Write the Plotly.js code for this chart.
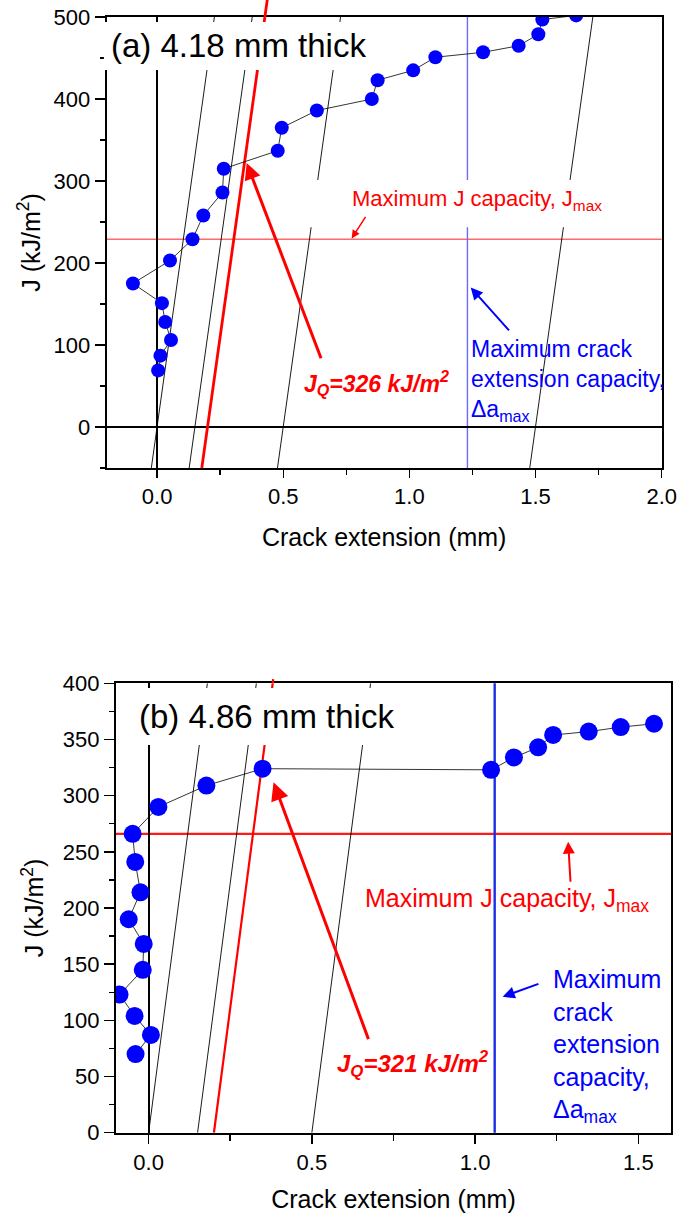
<!DOCTYPE html>
<html><head><meta charset="utf-8">
<script src="https://cdn.plot.ly/plotly-3.0.1.min.js"></script>
<style>html,body{margin:0;padding:0;background:#fff;}#chart{width:683px;height:1218px;}</style>
</head><body><div id="chart"></div>
<script>
// ---------- Panel (a): 4.18 mm thick ----------
const crackA = [0.004, 0.013, 0.055, 0.032, 0.019, -0.096, 0.051, 0.140, 0.183, 0.259, 0.264, 0.478, 0.494, 0.633, 0.851, 0.874, 1.015, 1.103, 1.292, 1.433, 1.511, 1.527, 1.661];
const jA     = [69, 87, 106, 128, 151, 175, 203, 229, 258, 286, 315, 337, 365, 386, 400, 423, 435, 451, 457, 465, 479, 497, 502];
// construction lines (crack extension at J = lineJA[0] and lineJA[1])
const lineJA     = [-50, 500];
const bluntA     = [-0.023, 0.227];
const offset015A = [0.127, 0.377];
const offset020A = [0.177, 0.427];
const offset050A = [0.477, 0.727];
const offset150A = [1.477, 1.727];
const jMaxA  = 229;
const daMaxA = 1.23;
const jQA    = 326;
const labelA = '(a) 4.18 mm thick';

// ---------- Panel (b): 4.86 mm thick ----------
const crackB = [-0.040, 0.007, -0.043, -0.089, -0.018, -0.015, -0.061, -0.025, -0.041, -0.049, 0.030, 0.177, 0.349, 1.049, 1.119, 1.193, 1.239, 1.348, 1.446, 1.548];
const jB     = [70, 87, 104, 123, 145, 168, 190, 214, 241, 266, 290, 309, 324, 323, 334, 343, 354, 357, 361, 364];
const lineJB     = [0, 400];
const bluntB     = [0, 0.18];
const offset015B = [0.15, 0.33];
const offset020B = [0.2, 0.38];
const offset050B = [0.5, 0.68];
const jMaxB  = 266;
const daMaxB = 1.06;
const jQB    = 321;
const labelB = '(b) 4.86 mm thick';

const xTitle = 'Crack extension (mm)';
const yTitle = 'J (kJ/m<sup>2</sup>)';

const FONT = 'Liberation Sans, Arial, sans-serif';
const RED = '#ff0000', BLUE = '#0000ff';

function seg(xs, ys, xa, ya, color, width) {
  return {type: 'scatter', mode: 'lines', x: xs, y: ys, xaxis: xa, yaxis: ya,
          line: {color: color, width: width}, hoverinfo: 'skip'};
}

const traces = [
  seg(bluntA, lineJA, 'x', 'y', 'black', 0.9),
  seg(offset015A, lineJA, 'x', 'y', 'black', 0.9),
  seg(offset050A, lineJA, 'x', 'y', 'black', 0.9),
  seg(offset150A, lineJA, 'x', 'y', 'black', 0.9),
  seg(offset020A, lineJA, 'x', 'y', RED, 2.8),
  {type: 'scatter', mode: 'lines+markers', x: crackA, y: jA, xaxis: 'x', yaxis: 'y',
   line: {color: 'black', width: 0.8}, marker: {color: BLUE, size: 14}},

  seg(bluntB, lineJB, 'x2', 'y2', 'black', 0.9),
  seg(offset015B, lineJB, 'x2', 'y2', 'black', 0.9),
  seg(offset050B, lineJB, 'x2', 'y2', 'black', 0.9),
  seg(offset020B, lineJB, 'x2', 'y2', RED, 2.2),
  {type: 'scatter', mode: 'lines+markers', x: crackB, y: jB, xaxis: 'x2', yaxis: 'y2',
   line: {color: 'black', width: 0.8}, marker: {color: BLUE, size: 18}}
];

function axisCommon(extra) {
  return Object.assign({
    showline: true, mirror: true, linecolor: 'black', linewidth: 2,
    showgrid: false, zeroline: true, zerolinecolor: 'black', zerolinewidth: 1.8,
    ticks: 'outside', tickcolor: 'black', tickwidth: 1.5,
    tickfont: {family: FONT, size: 22, color: 'black'},
    fixedrange: true
  }, extra);
}

function arrow(xr, yr, x, y, ax, ay, color, width, size, head) {
  return {xref: xr, yref: yr, axref: xr, ayref: yr, x: x, y: y, ax: ax, ay: ay,
          text: '', showarrow: true, arrowhead: head, arrowsize: size,
          arrowwidth: width, arrowcolor: color, standoff: 0, font: {size: 1}};
}

function slopeExt(xs, js, jTo) {
  const s = (xs[1] - xs[0]) / (js[1] - js[0]);
  return xs[1] + s * (jTo - js[1]);
}

const layout = {
  width: 683, height: 1218,
  margin: {l: 0, r: 0, t: 0, b: 0},
  paper_bgcolor: 'white', plot_bgcolor: 'white',
  showlegend: false, hovermode: false,
  font: {family: FONT, color: 'black'},
  xaxis: axisCommon({domain: [0.1562, 0.9688], range: [-0.2, 2.0], anchor: 'y',
    dtick: 0.5, tick0: 0, tickformat: '.1f', ticklen: 8,
    minor: {dtick: 0.25, ticklen: 5, ticks: 'outside', tickcolor: 'black', tickwidth: 1.5},
    title: {text: xTitle, font: {family: FONT, size: 25, color: 'black'}, standoff: 20}}),
  yaxis: axisCommon({domain: [0.6158, 0.9860], range: [-50, 500], anchor: 'x',
    dtick: 100, tick0: 0, ticklen: 10,
    minor: {dtick: 50, ticklen: 5, ticks: 'outside', tickcolor: 'black', tickwidth: 1.5},
    title: {text: yTitle, font: {family: FONT, size: 25, color: 'black'}, standoff: 6}}),
  xaxis2: axisCommon({domain: [0.1698, 0.9824], range: [-0.1, 1.6], anchor: 'y2',
    dtick: 0.5, tick0: 0, tickformat: '.1f', ticklen: 9,
    minor: {dtick: 0.25, ticklen: 6, ticks: 'outside', tickcolor: 'black', tickwidth: 1.5},
    title: {text: xTitle, font: {family: FONT, size: 25, color: 'black'}, standoff: 16}}),
  yaxis2: axisCommon({domain: [0.0700, 0.4390], range: [0, 400], anchor: 'x2',
    dtick: 50, tick0: 0, ticklen: 10,
    minor: {dtick: 25, ticklen: 5, ticks: 'outside', tickcolor: 'black', tickwidth: 1.5},
    title: {text: yTitle, font: {family: FONT, size: 25, color: 'black'}, standoff: 12}}),
  shapes: [
    // Jmax / delta-a max lines (below markers)
    {type: 'line', layer: 'below', xref: 'x domain', yref: 'y', x0: 0, x1: 1, y0: jMaxA, y1: jMaxA,
     line: {color: '#ff6a6a', width: 1.4}},
    {type: 'line', layer: 'below', xref: 'x', yref: 'y domain', x0: daMaxA, x1: daMaxA, y0: 0, y1: 1,
     line: {color: '#6a6aff', width: 1.4}},
    {type: 'line', layer: 'below', xref: 'x2 domain', yref: 'y2', x0: 0, x1: 1, y0: jMaxB, y1: jMaxB,
     line: {color: '#ff1a1a', width: 2.4}},
    {type: 'line', layer: 'below', xref: 'x2', yref: 'y2 domain', x0: daMaxB, x1: daMaxB, y0: 0, y1: 1,
     line: {color: '#1a2ee6', width: 2.4}},
    // white label boxes
    {type: 'rect', layer: 'above', xref: 'x domain', yref: 'y domain', x0: -0.005, x1: 0.51, y0: 0.8825, y1: 0.989,
     fillcolor: 'white', line: {width: 0}},
    {type: 'rect', layer: 'above', xref: 'x domain', yref: 'y domain', x0: 0.357, x1: 0.934, y0: 0.534, y1: 0.6386,
     fillcolor: 'white', line: {width: 0}},
    {type: 'rect', layer: 'above', xref: 'x2 domain', yref: 'y2 domain', x0: 0.004, x1: 0.544, y0: 0.8627, y1: 0.9895,
     fillcolor: 'white', line: {width: 0}}
  ],
  annotations: [
    // panel (a) texts
    {xref: 'x domain', yref: 'y domain', x: 0.004, y: 0.936, xanchor: 'left', yanchor: 'middle',
     text: labelA, showarrow: false, font: {family: FONT, size: 33, color: 'black'}},
    {xref: 'x', yref: 'y', x: 0.764, y: 277, xanchor: 'left', yanchor: 'middle',
     text: 'Maximum J capacity, J<sub>max</sub>', showarrow: false, font: {family: FONT, size: 22, color: RED}},
    {xref: 'x', yref: 'y', x: 0.574, y: 54, xanchor: 'left', yanchor: 'middle',
     text: '<b><i>J<sub>Q</sub>=' + jQA + ' kJ/m<sup>2</sup></i></b>', showarrow: false,
     font: {family: FONT, size: 23, color: RED}},
    {xref: 'x', yref: 'y', x: 1.236, y: 57, xanchor: 'left', yanchor: 'middle', align: 'left',
     text: 'Maximum crack<br>extension capacity,<br>\u0394a<sub>max</sub>', showarrow: false,
     font: {family: FONT, size: 23, color: BLUE}},
    arrow('x', 'y', 0.355, 322, 0.652, 82, RED, 3, 1.1, 2),
    arrow('x', 'y', 0.771, 230, 0.830, 258, RED, 1.5, 1.1, 2),
    arrow('x', 'y', 1.243, 170, 1.400, 116, BLUE, 2, 1.2, 2),
    // red offset line running past the top frame
    arrow('x', 'y', offset020A[1], lineJA[1], slopeExt(offset020A, lineJA, 523), 523, RED, 2.8, 1, 0),

    // panel (b) texts
    {xref: 'x2 domain', yref: 'y2 domain', x: 0.038, y: 0.926, xanchor: 'left', yanchor: 'middle',
     text: labelB, showarrow: false, font: {family: FONT, size: 33, color: 'black'}},
    {xref: 'x2', yref: 'y2', x: 0.656, y: 207, xanchor: 'left', yanchor: 'middle',
     text: 'Maximum J capacity, J<sub>max</sub>', showarrow: false, font: {family: FONT, size: 25, color: RED}},
    {xref: 'x2', yref: 'y2', x: 0.571, y: 61, xanchor: 'left', yanchor: 'middle',
     text: '<b><i>J<sub>Q</sub>=' + jQB + ' kJ/m<sup>2</sup></i></b>', showarrow: false,
     font: {family: FONT, size: 24, color: RED}},
    {xref: 'x2', yref: 'y2', x: 1.234, y: 77, xanchor: 'left', yanchor: 'middle', align: 'left',
     text: 'Maximum<br>crack<br>extension<br>capacity,<br>\u0394a<sub>max</sub>', showarrow: false,
     font: {family: FONT, size: 25, color: BLUE}},
    arrow('x2', 'y2', 0.3825, 312, 0.675, 82, RED, 3, 1.2, 2),
    arrow('x2', 'y2', 1.285, 259, 1.2925, 222, RED, 2, 1.2, 2),
    arrow('x2', 'y2', 1.0845, 121, 1.1986, 133, BLUE, 2, 1.2, 2),
    arrow('x2', 'y2', offset020B[1], lineJB[1], slopeExt(offset020B, lineJB, 405), 405, RED, 2.2, 1, 0)
  ]
};

Plotly.newPlot('chart', traces, layout, {staticPlot: true, displayModeBar: false});
</script>
</body></html>
